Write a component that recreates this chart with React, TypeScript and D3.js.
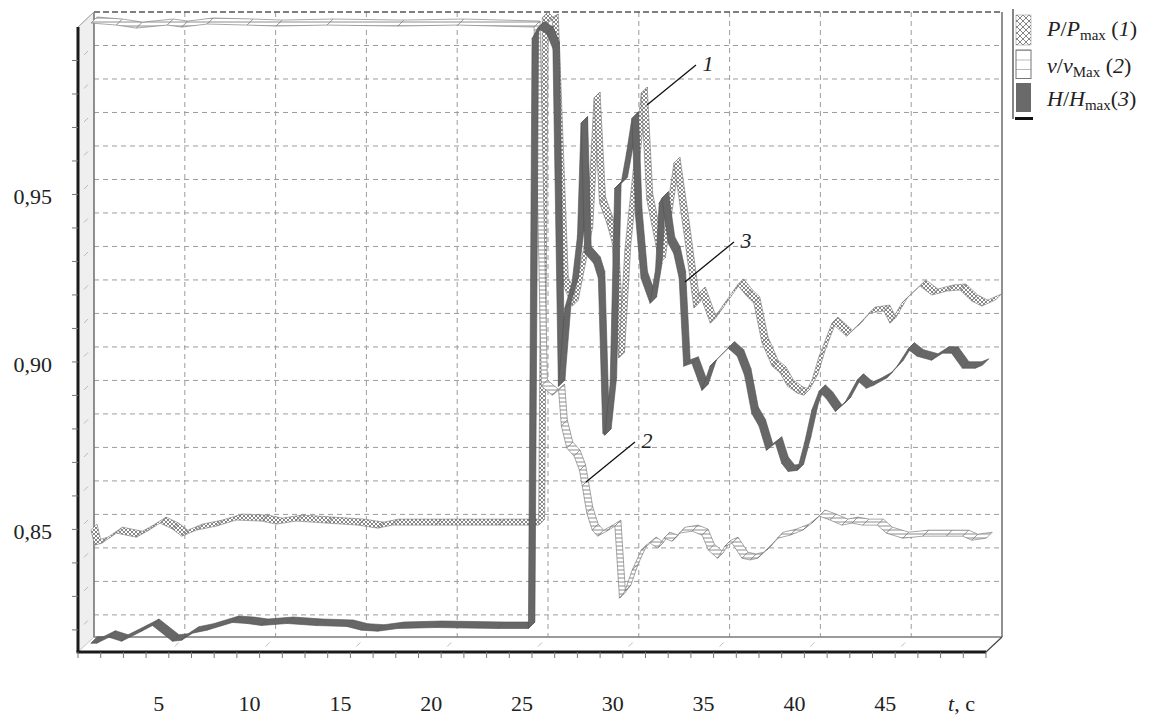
import React from 'react';
import * as d3 from 'd3';

// P/Pmax (1): time, s and relative value
const pTimes = [0, 0.2, 0.6, 1.4, 2.5, 3.1, 3.8, 4.5, 5.0, 5.8, 6.9, 8.0, 9.4, 10.2, 11.3, 13.0, 14.7, 15.8, 16.6, 19.0, 22.4, 24.65,
  24.85, 25.1, 25.4, 25.95, 26.5, 27.3, 27.7, 28.0, 28.4, 28.7, 29.05, 29.4, 30.3, 30.6, 31.3, 32.1, 32.65, 33.2, 33.5, 34.1, 34.5,
  35.6, 36.1, 36.5, 36.95, 37.5, 37.95, 38.35, 38.9, 39.25, 39.7, 40.1, 40.8, 41.6, 42.2, 42.85, 43.65, 44.0, 44.65, 45.65, 46.3,
  47.15, 47.85, 48.5, 49.05, 49.8];
const pValues = [0.8462, 0.8417, 0.8423, 0.8453, 0.8441, 0.8459, 0.8483, 0.8465, 0.8444, 0.8462, 0.8474, 0.8492, 0.8489, 0.848,
  0.8489, 0.8483, 0.8477, 0.8468, 0.8477, 0.8477, 0.8477, 0.8477,
  0.9991, 0.9976, 0.9985, 0.92, 0.9131, 0.935, 0.9752, 0.9439, 0.9379, 0.932, 0.8976, 0.93, 0.9767, 0.945, 0.9259, 0.9558, 0.9349,
  0.9125, 0.917, 0.908, 0.911, 0.9194, 0.9161, 0.914, 0.9021, 0.8952, 0.8931, 0.8892, 0.8871, 0.8865, 0.891, 0.8982, 0.908, 0.9041,
  0.9071, 0.911, 0.9116, 0.908, 0.914, 0.9191, 0.9164, 0.9176, 0.9179, 0.9146, 0.9131, 0.9149];

// v/vMax (2)
const vTimes = [0, 1.4, 2.5, 4.2, 5.0, 6.4, 8.6, 10.2, 13.0, 16.9, 20.2, 24.4, 24.8, 25.4, 25.75, 25.9, 26.2, 26.6, 26.9, 27.05,
  27.3, 27.6, 27.9, 28.4, 28.85, 29.1, 29.4, 29.8, 30.3, 30.8, 31.2, 31.55, 32.0, 32.4, 33.1, 33.65, 34.0, 34.5, 34.9, 35.3, 35.85,
  36.3, 36.7, 37.2, 37.8, 38.5, 39.2, 39.7, 40.1, 40.7, 41.35, 41.9, 42.5, 43.3, 43.8, 44.7, 45.8, 47.1, 48.0, 48.5, 49.3];
const vValues = [0.9976, 0.997, 0.9961, 0.997, 0.9964, 0.9973, 0.997, 0.9967, 0.997, 0.9967, 0.997, 0.9964, 0.8892, 0.8865,
  0.888, 0.8773, 0.8707, 0.8683, 0.864, 0.8594, 0.8513, 0.8462, 0.8444, 0.8459, 0.8474, 0.8259, 0.828, 0.8343, 0.8402, 0.8423,
  0.8408, 0.8438, 0.8429, 0.8453, 0.8459, 0.8447, 0.8402, 0.8378, 0.8414, 0.8423, 0.8378, 0.8373, 0.8378, 0.8402, 0.8438, 0.8447,
  0.8462, 0.8483, 0.8504, 0.8492, 0.8477, 0.8483, 0.8477, 0.8477, 0.8453, 0.8438, 0.8444, 0.8444, 0.8444, 0.8432, 0.8438];

// H/Hmax (3)
const hTimes = [0, 0.33, 1.0, 1.7, 2.8, 3.4, 4.5, 5.0, 5.6, 6.4, 7.8, 8.6, 9.4, 10.8, 12.4, 14.1, 14.9, 15.8, 16.9, 19.0, 22.4,
  24.1, 24.3, 24.6, 25.1, 25.45, 25.75, 26.1, 26.5, 26.8, 27.0, 27.2, 27.7, 27.95, 28.2, 28.3, 28.6, 28.85, 29.2, 29.5, 29.8, 30.0,
  30.3, 30.8, 31.1, 31.3, 31.45, 31.8, 32.1, 32.4, 32.65, 33.1, 33.65, 34.1, 35.1, 35.6, 36.0, 36.4, 36.8, 37.2, 37.7, 38.05, 38.4,
  38.9, 39.3, 39.7, 40.1, 40.5, 41.0, 41.5, 42.2, 42.7, 43.1, 43.8, 44.4, 45.0, 45.5, 46.3, 46.9, 47.4, 48.0, 48.7, 49.1];
const hValues = [0.8125, 0.8125, 0.8143, 0.8131, 0.8161, 0.8178, 0.8131, 0.8134, 0.8155, 0.8164, 0.8187, 0.8184, 0.8178, 0.8184,
  0.8178, 0.8175, 0.8164, 0.8161, 0.8169, 0.8172, 0.8169, 0.8169, 0.993, 0.9961, 0.9946, 0.99, 0.8892, 0.9125, 0.92, 0.934, 0.9678,
  0.929, 0.9259, 0.9215, 0.8752, 0.8746, 0.89, 0.9483, 0.9498, 0.9588, 0.9692, 0.94, 0.9215, 0.914, 0.924, 0.9439, 0.9454, 0.9319,
  0.9289, 0.9215, 0.8952, 0.8961, 0.888, 0.8952, 0.9006, 0.8982, 0.8925, 0.8811, 0.8773, 0.8701, 0.8722, 0.8662, 0.8638, 0.8641,
  0.8722, 0.882, 0.8877, 0.8856, 0.8817, 0.8841, 0.891, 0.8886, 0.8895, 0.8916, 0.8952, 0.9003, 0.8982, 0.897, 0.8991, 0.8991,
  0.8946, 0.8946, 0.8955];

const yLabelValues = [0.85, 0.9, 0.95];
const xLabelValues = [5, 10, 15, 20, 25, 30, 35, 40, 45];

// curve number callouts: anchor on the curve (t, value)
const calloutNames = ['1', '2', '3'];
const calloutTimes = [30.45, 27.09, 32.54];
const calloutValues = [0.9722, 0.8597, 0.9194];

const WIDTH = 1157;
const HEIGHT = 716;
const WALL = { left: 94, right: 1002, top: 12, bottom: 637 };
const DEPTH = { dx: -16, dy: 15 };
const SERIF = '"Liberation Serif", "DejaVu Serif", "Times New Roman", serif';

const x = d3.scaleLinear().domain([0, 50]).range([WALL.left, WALL.right]);
const y = d3.scaleLinear().domain([0.8134, 1.0]).range([WALL.bottom, WALL.top]);

const gridValues = d3.range(82, 100).map((k) => k / 100);
const xGrid = xLabelValues;
const xMinorTicks = d3.range(0, 50.001, 1.25);
const fmtComma = (v: number) => d3.format('.2f')(v).replace('.', ',');

// 3D ribbon: one parallelogram per segment, extruded along the depth direction
function ribbonQuads(times: number[], values: number[], depth: number): string[] {
  const h = depth / 2;
  const pts = times.map((t, i) => [x(t), y(values[i])] as [number, number]);
  return d3.pairs(pts).map(([a, b]) =>
    `M${a[0] - h},${a[1] + h}L${b[0] - h},${b[1] + h}L${b[0] + h},${b[1] - h}L${a[0] + h},${a[1] - h}Z`
  );
}

const series = [
  { key: 'P', times: pTimes, values: pValues, depth: 6, fill: 'url(#crossP)', stroke: '#7a7a7a' },
  { key: 'v', times: vTimes, values: vValues, depth: 6, fill: 'url(#linesV)', stroke: '#6f6f6f' },
  { key: 'H', times: hTimes, values: hValues, depth: 6.5, fill: '#676767', stroke: '#505050' },
];

export default function App() {
  const fx = (t: number) => x(t) + DEPTH.dx;
  const frontBottom = WALL.bottom + DEPTH.dy;
  const frontTop = WALL.top + DEPTH.dy;
  const frontLeft = WALL.left + DEPTH.dx;
  const frontRight = WALL.right + DEPTH.dx;

  return (
    <svg width={WIDTH} height={HEIGHT} style={{ position: 'absolute', left: 0, top: 0, background: '#fff' }}
      fontFamily={SERIF}>
      <defs>
        <pattern id="crossP" width="4" height="4" patternUnits="userSpaceOnUse">
          <rect width="4" height="4" fill="#fff" />
          <path d="M0,0L4,4M4,0L0,4" stroke="#6a6a6a" strokeWidth="0.8" />
        </pattern>
        <pattern id="linesV" width="4" height="4" patternUnits="userSpaceOnUse">
          <rect width="4" height="4" fill="#fff" />
          <path d="M0,2H4" stroke="#808080" strokeWidth="0.9" />
        </pattern>
        <pattern id="crossLegend" width="6" height="6" patternUnits="userSpaceOnUse">
          <rect width="6" height="6" fill="#fff" />
          <path d="M0,0L6,6M6,0L0,6" stroke="#777" strokeWidth="0.9" />
        </pattern>
        <pattern id="linesLegend" width="16" height="9.5" patternUnits="userSpaceOnUse" y="50">
          <rect width="16" height="9.5" fill="#fff" />
          <path d="M0,0H16" stroke="#777" strokeWidth="1" />
        </pattern>
      </defs>

      {/* left side wall */}
      <polygon
        points={`${frontLeft},${frontTop} ${WALL.left},${WALL.top} ${WALL.left},${WALL.bottom} ${frontLeft},${frontBottom}`}
        fill="#efefef" stroke="#bbb" strokeWidth={0.8} />

      {/* back wall grid */}
      {gridValues.map((g) => (
        <line key={`gy${g}`} x1={WALL.left} x2={WALL.right} y1={y(g)} y2={y(g)}
          stroke="#9c9c9c" strokeWidth={1} strokeDasharray="5,4" />
      ))}
      {xGrid.map((t) => (
        <line key={`gx${t}`} x1={x(t)} x2={x(t)} y1={WALL.top} y2={WALL.bottom}
          stroke="#9c9c9c" strokeWidth={1} strokeDasharray="5,4" />
      ))}
      {/* grid continuation on side wall and floor */}
      {gridValues.map((g) => (
        <line key={`sw${g}`} x1={WALL.left - 10} y1={y(g) + 9.5} x2={WALL.left - 6} y2={y(g) + 5.5}
          stroke="#aaa" strokeWidth={0.8} />
      ))}
      {xGrid.map((t) => (
        <line key={`fl${t}`} x1={x(t) - 10} y1={WALL.bottom + 9.5} x2={x(t) - 6} y2={WALL.bottom + 5.5}
          stroke="#aaa" strokeWidth={0.8} />
      ))}

      {/* back wall frame */}
      <line x1={WALL.left} x2={WALL.right} y1={y(1)} y2={y(1)} stroke="#555" strokeWidth={1.3} strokeDasharray="6,3" />
      <line x1={WALL.left} x2={WALL.left} y1={WALL.top} y2={WALL.bottom} stroke="#7a7a7a" strokeWidth={1.6} />
      <line x1={WALL.right} x2={WALL.right} y1={WALL.top} y2={WALL.bottom} stroke="#555" strokeWidth={1.3} />
      <line x1={WALL.left} x2={WALL.right} y1={WALL.bottom} y2={WALL.bottom} stroke="#7a7a7a" strokeWidth={1.6} />
      <line x1={frontRight} y1={frontBottom} x2={WALL.right} y2={WALL.bottom} stroke="#444" strokeWidth={1.2} />
      <line x1={frontLeft} y1={frontTop} x2={WALL.left} y2={WALL.top} stroke="#aaa" strokeWidth={1} />

      {/* data ribbons */}
      {series.map((s) => (
        <g key={s.key}>
          {ribbonQuads(s.times, s.values, s.depth).map((d, i) => (
            <path key={i} d={d} fill={s.fill} stroke={s.stroke} strokeWidth={0.6} strokeLinejoin="round" />
          ))}
        </g>
      ))}

      {/* front axes */}
      <line x1={frontLeft} x2={frontLeft} y1={frontTop} y2={frontBottom} stroke="#1a1a1a" strokeWidth={3} />
      <line x1={frontLeft - 1.5} x2={frontRight} y1={frontBottom} y2={frontBottom} stroke="#1a1a1a" strokeWidth={3} />
      {gridValues.map((g) => (
        <line key={`ty${g}`} x1={frontLeft - 6} x2={frontLeft} y1={y(g) + DEPTH.dy} y2={y(g) + DEPTH.dy}
          stroke="#777" strokeWidth={1} />
      ))}
      {xMinorTicks.map((t) => (
        <line key={`tx${t}`} x1={fx(t)} x2={fx(t)} y1={frontBottom} y2={frontBottom + 6} stroke="#777" strokeWidth={1} />
      ))}

      {/* axis labels */}
      {yLabelValues.map((v) => (
        <text key={`ly${v}`} x={52} y={y(v) + 25} fontSize={22} textAnchor="end" fill="#222">{fmtComma(v)}</text>
      ))}
      {xLabelValues.map((t) => (
        <text key={`lx${t}`} x={fx(t) - 10} y={711} fontSize={22} textAnchor="middle" fill="#222">{t}</text>
      ))}
      <text x={948} y={711} fontSize={22} fill="#222">
        <tspan fontStyle="italic">t</tspan>, c
      </text>

      {/* curve callouts */}
      {calloutNames.map((n, i) => {
        const ax = x(calloutTimes[i]);
        const ay = y(calloutValues[i]);
        return (
          <g key={`c${n}`}>
            <line x1={ax} y1={ay} x2={ax + 49} y2={ay - 40} stroke="#111" strokeWidth={1.3} />
            <text x={ax + 61} y={ay - 34} fontSize={22} fontStyle="italic" textAnchor="middle" fill="#222">{n}</text>
          </g>
        );
      })}

      {/* legend */}
      <line x1={1013} x2={1013} y1={9} y2={119} stroke="#444" strokeWidth={1.3} />
      <line x1={1015} x2={1033} y1={118.5} y2={118.5} stroke="#111" strokeWidth={3} />
      <rect x={1016} y={15} width={15} height={30} fill="url(#crossLegend)" stroke="#999" strokeWidth={0.6} />
      <rect x={1016} y={50} width={15} height={28.5} fill="url(#linesLegend)" stroke="#777" strokeWidth={1} />
      <rect x={1016} y={83} width={15} height={29} fill="#6a6a6a" />
      <text x={1047} y={36} fontSize={22} fill="#222">
        <tspan fontStyle="italic">P</tspan>/<tspan fontStyle="italic">P</tspan>
        <tspan fontSize={15} dy={4}>max</tspan>
        <tspan dy={-4}> (</tspan><tspan fontStyle="italic">1</tspan>)
      </text>
      <text x={1047} y={73} fontSize={22} fill="#222">
        <tspan fontStyle="italic">v</tspan>/<tspan fontStyle="italic">v</tspan>
        <tspan fontSize={15} dy={4}>Max</tspan>
        <tspan dy={-4}> (</tspan><tspan fontStyle="italic">2</tspan>)
      </text>
      <text x={1047} y={106} fontSize={22} fill="#222">
        <tspan fontStyle="italic">H</tspan>/<tspan fontStyle="italic">H</tspan>
        <tspan fontSize={15} dy={4}>max</tspan>
        <tspan dy={-4}>(</tspan><tspan fontStyle="italic">3</tspan>)
      </text>
    </svg>
  );
}
